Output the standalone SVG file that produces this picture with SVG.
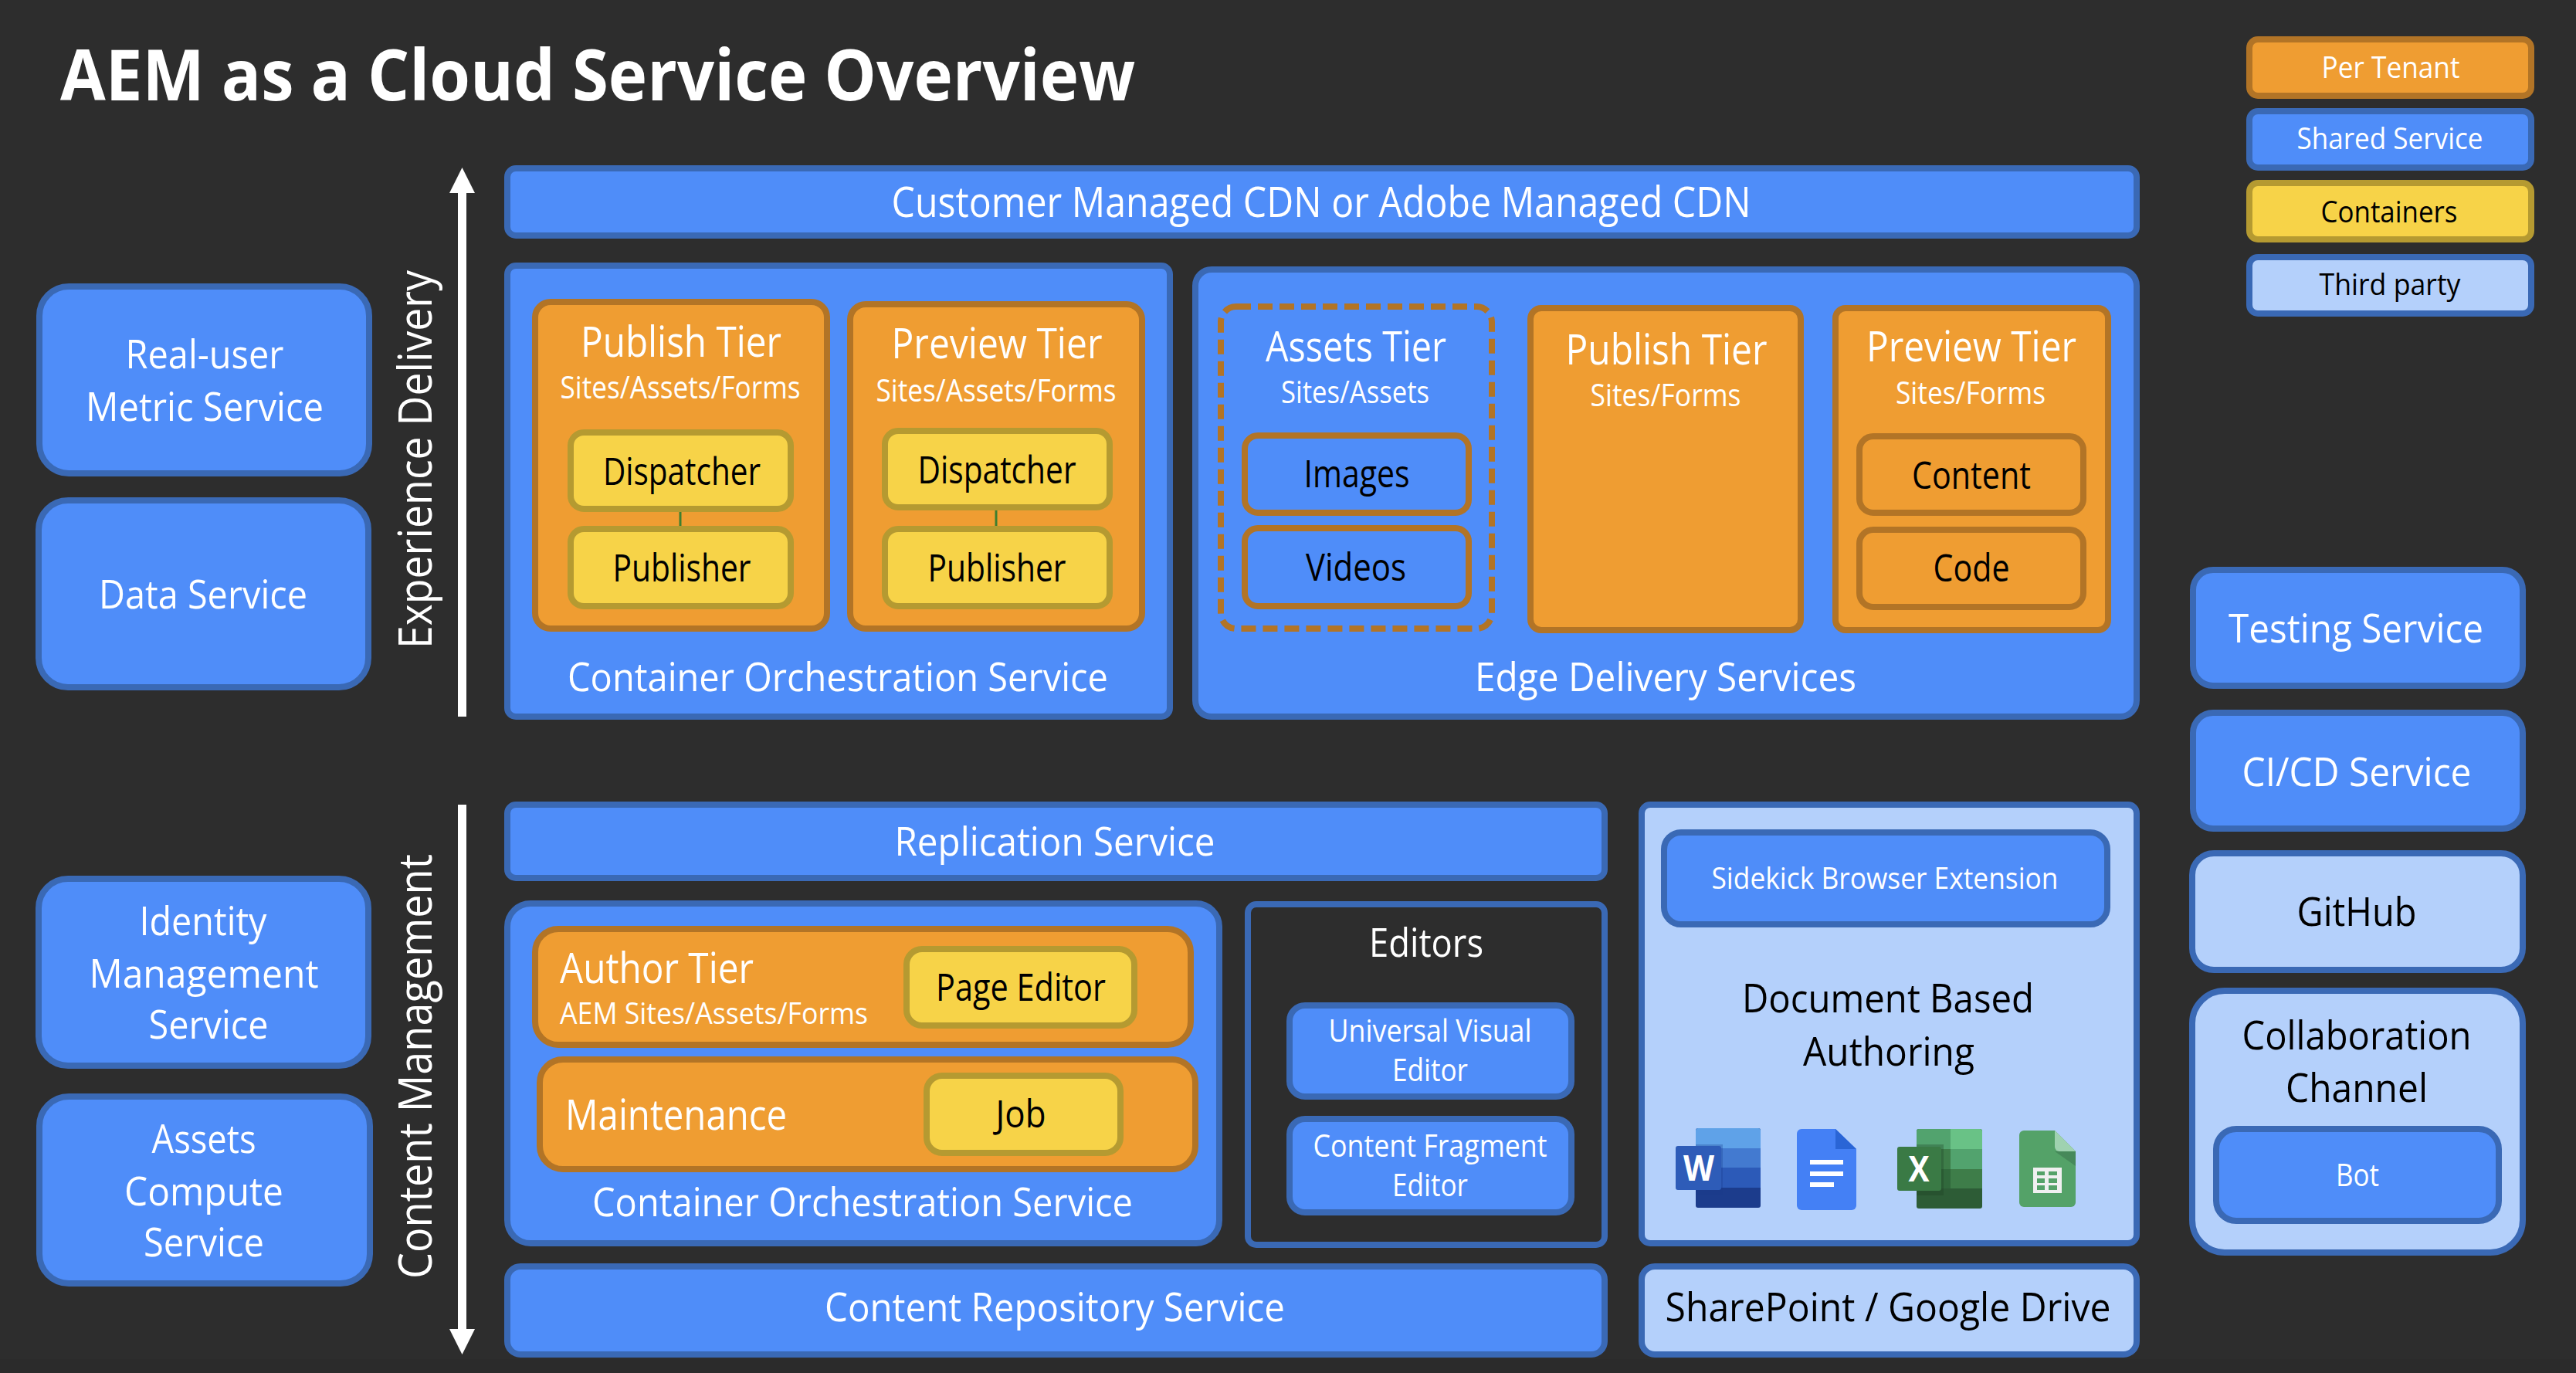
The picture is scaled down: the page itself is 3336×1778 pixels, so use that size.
<svg xmlns="http://www.w3.org/2000/svg" width="3336" height="1778" viewBox="0 0 3336 1778">
<style>
text{font-family:"Open Sans","Noto Sans","Liberation Sans",sans-serif;text-anchor:middle}
rect.n{stroke-width:8}
.b{fill:#4f8df9;stroke:#3a69b5}
.o{fill:#ef9d32;stroke:#b27426}
.y{fill:#f7d348;stroke:#b59a31}
.l{fill:#b4d0fb;stroke:#3a69b5}
.e{fill:#2d2d2d;stroke:#3a69b5}
.t{fill:#4f8df9;stroke:#b27426}
.d{fill:none;stroke:#b27426;stroke-dasharray:19 9}
.w{fill:#fff}
.k{fill:#000}
.s38{font-size:38px}
.s40{font-size:40px}
.s48{font-size:49px}
.s51{font-size:52px}
.s53{font-size:54px}
.s61{font-size:61px}
.ttl{font-size:91px;font-weight:700;text-anchor:start}
.start{text-anchor:start}
.arrow{stroke:#fff;stroke-width:11;fill:none}
.link{stroke:#3f7f2f;stroke-width:3;fill:none}
</style>
<defs>
<marker id="head" viewBox="0 0 33 33" refX="0" refY="16.5" markerWidth="33" markerHeight="33" markerUnits="userSpaceOnUse" orient="auto"><path d="M0 0L33 16.5L0 33Z" fill="#fff"/></marker>
</defs>
<rect width="3336" height="1778" fill="#2d2d2d"/>
<rect y="1760" width="3336" height="18" fill="#2b2b2b"/>
<text id="title" class="w ttl" x="78" y="130" textLength="1392" lengthAdjust="spacingAndGlyphs">AEM as a Cloud Service Overview</text>

<g id="legend">
<g id="legend-per-tenant"><rect class="n o" x="2913" y="51" width="365" height="73" rx="11"/><text class="w s38" x="3096" y="101" textLength="179" lengthAdjust="spacingAndGlyphs">Per Tenant</text></g>
<g id="legend-shared"><rect class="n b" x="2913" y="144" width="365" height="73" rx="11"/><text class="w s38" x="3095" y="193" textLength="241" lengthAdjust="spacingAndGlyphs">Shared Service</text></g>
<g id="legend-containers"><rect class="n y" x="2913" y="237" width="365" height="73" rx="11"/><text class="k s38" x="3094" y="288" textLength="177" lengthAdjust="spacingAndGlyphs">Containers</text></g>
<g id="legend-third"><rect class="n l" x="2913" y="333" width="365" height="73" rx="11"/><text class="k s38" x="3095" y="382" textLength="183" lengthAdjust="spacingAndGlyphs">Third party</text></g>
</g>

<g id="real-user"><rect class="n b" x="51" y="371" width="427" height="242" rx="38"/><text class="w s51" x="265" y="477" textLength="205" lengthAdjust="spacingAndGlyphs">Real-user</text><text class="w s51" x="265" y="545" textLength="308" lengthAdjust="spacingAndGlyphs">Metric Service</text></g>
<g id="data-service"><rect class="n b" x="50" y="648" width="427" height="242" rx="38"/><text class="w s51" x="263" y="788" textLength="270" lengthAdjust="spacingAndGlyphs">Data Service</text></g>
<g id="identity"><rect class="n b" x="50" y="1138" width="427" height="242" rx="38"/><text class="w s51" x="263" y="1211" textLength="165" lengthAdjust="spacingAndGlyphs">Identity</text><text class="w s51" x="264" y="1279" textLength="297" lengthAdjust="spacingAndGlyphs">Management</text><text class="w s51" x="270" y="1345" textLength="155" lengthAdjust="spacingAndGlyphs">Service</text></g>
<g id="assets-compute"><rect class="n b" x="51" y="1420" width="428" height="242" rx="38"/><text class="w s51" x="264" y="1493" textLength="135" lengthAdjust="spacingAndGlyphs">Assets</text><text class="w s51" x="264" y="1561" textLength="206" lengthAdjust="spacingAndGlyphs">Compute</text><text class="w s51" x="264" y="1627" textLength="156" lengthAdjust="spacingAndGlyphs">Service</text></g>

<text id="label-experience" class="w s61" transform="translate(559 840) rotate(-90)" x="245" y="0" textLength="490" lengthAdjust="spacingAndGlyphs">Experience Delivery</text>
<text id="label-content" class="w s61" transform="translate(559 1656) rotate(-90)" x="275" y="0" textLength="550" lengthAdjust="spacingAndGlyphs">Content Management</text>

<g id="cdn"><rect class="n b" x="657" y="218" width="2110" height="87" rx="11"/><text class="w s53" x="1711" y="281" textLength="1113" lengthAdjust="spacingAndGlyphs">Customer Managed CDN or Adobe Managed CDN</text></g>

<g id="orchestration-publish"><rect class="n b" x="657" y="344" width="858" height="584" rx="11"/><text class="w s51" x="1085" y="895" textLength="700" lengthAdjust="spacingAndGlyphs">Container Orchestration Service</text></g>
<g id="publish-tier"><rect class="n o" x="693" y="391" width="378" height="423" rx="20"/><text class="w s53" x="882" y="462" textLength="260" lengthAdjust="spacingAndGlyphs">Publish Tier</text><text class="w s40" x="881" y="516" textLength="311" lengthAdjust="spacingAndGlyphs">Sites/Assets/Forms</text></g>
<g id="dispatcher-1"><rect class="n y" x="739" y="560" width="285" height="99" rx="17"/><text class="k s48" x="883" y="628" textLength="204" lengthAdjust="spacingAndGlyphs">Dispatcher</text></g>
<g id="publisher-1"><rect class="n y" x="739" y="685" width="285" height="100" rx="17"/><text class="k s48" x="883" y="753" textLength="179" lengthAdjust="spacingAndGlyphs">Publisher</text></g>
<g id="preview-tier"><rect class="n o" x="1101" y="394" width="378" height="420" rx="20"/><text class="w s53" x="1291" y="464" textLength="273" lengthAdjust="spacingAndGlyphs">Preview Tier</text><text class="w s40" x="1290" y="520" textLength="311" lengthAdjust="spacingAndGlyphs">Sites/Assets/Forms</text></g>
<g id="dispatcher-2"><rect class="n y" x="1146" y="558" width="291" height="99" rx="17"/><text class="k s48" x="1291" y="626" textLength="205" lengthAdjust="spacingAndGlyphs">Dispatcher</text></g>
<g id="publisher-2"><rect class="n y" x="1146" y="685" width="291" height="100" rx="17"/><text class="k s48" x="1291" y="753" textLength="179" lengthAdjust="spacingAndGlyphs">Publisher</text></g>

<g id="edge-delivery"><rect class="n b" x="1548" y="349" width="1219" height="579" rx="21"/><text class="w s51" x="2157" y="895" textLength="494" lengthAdjust="spacingAndGlyphs">Edge Delivery Services</text></g>
<g id="assets-tier"><rect class="n d" x="1581" y="397" width="351" height="417" rx="20"/><text class="w s53" x="1756" y="468" textLength="234" lengthAdjust="spacingAndGlyphs">Assets Tier</text><text class="w s40" x="1755" y="522" textLength="192" lengthAdjust="spacingAndGlyphs">Sites/Assets</text></g>
<g id="images"><rect class="n t" x="1612" y="564" width="290" height="100" rx="17"/><text class="k s48" x="1757" y="631" textLength="137" lengthAdjust="spacingAndGlyphs">Images</text></g>
<g id="videos"><rect class="n t" x="1612" y="684" width="290" height="101" rx="17"/><text class="k s48" x="1756" y="752" textLength="130" lengthAdjust="spacingAndGlyphs">Videos</text></g>
<g id="publish-edge"><rect class="n o" x="1982" y="399" width="350" height="417" rx="14"/><text class="w s53" x="2158" y="472" textLength="261" lengthAdjust="spacingAndGlyphs">Publish Tier</text><text class="w s40" x="2157" y="526" textLength="195" lengthAdjust="spacingAndGlyphs">Sites/Forms</text></g>
<g id="preview-edge"><rect class="n o" x="2377" y="399" width="353" height="417" rx="13"/><text class="w s53" x="2553" y="468" textLength="272" lengthAdjust="spacingAndGlyphs">Preview Tier</text><text class="w s40" x="2552" y="523" textLength="194" lengthAdjust="spacingAndGlyphs">Sites/Forms</text></g>
<g id="content"><rect class="n o" x="2408" y="565" width="290" height="99" rx="18"/><text class="k s48" x="2553" y="633" textLength="154" lengthAdjust="spacingAndGlyphs">Content</text></g>
<g id="code"><rect class="n o" x="2408" y="686" width="290" height="100" rx="18"/><text class="k s48" x="2553" y="753" textLength="99" lengthAdjust="spacingAndGlyphs">Code</text></g>

<g id="replication"><rect class="n b" x="657" y="1042" width="1421" height="95" rx="11"/><text class="w s51" x="1366" y="1108" textLength="415" lengthAdjust="spacingAndGlyphs">Replication Service</text></g>
<g id="orchestration-author"><rect class="n b" x="657" y="1170" width="922" height="440" rx="30"/><text class="w s51" x="1117" y="1575" textLength="700" lengthAdjust="spacingAndGlyphs">Container Orchestration Service</text></g>
<g id="author-tier"><rect class="n o" x="693" y="1203" width="849" height="150" rx="30"/><text class="w s53 start" x="725" y="1273" textLength="251" lengthAdjust="spacingAndGlyphs">Author Tier</text><text class="w s38 start" x="725" y="1326" textLength="399" lengthAdjust="spacingAndGlyphs">AEM Sites/Assets/Forms</text></g>
<g id="page-editor"><rect class="n y" x="1174" y="1229" width="295" height="99" rx="20"/><text class="k s48" x="1322" y="1296" textLength="220" lengthAdjust="spacingAndGlyphs">Page Editor</text></g>
<g id="maintenance"><rect class="n o" x="699" y="1372" width="849" height="142" rx="30"/><text class="w s53 start" x="732" y="1463" textLength="287" lengthAdjust="spacingAndGlyphs">Maintenance</text></g>
<g id="job"><rect class="n y" x="1200" y="1393" width="251" height="100" rx="20"/><text class="k s48" x="1322" y="1460" textLength="65" lengthAdjust="spacingAndGlyphs">Job</text></g>
<g id="editors"><rect class="n e" x="1616" y="1171" width="462" height="441" rx="11"/><text class="w s51" x="1847" y="1239" textLength="148" lengthAdjust="spacingAndGlyphs">Editors</text></g>
<g id="universal-visual-editor"><rect class="n b" x="1670" y="1302" width="365" height="118" rx="20"/><text class="w s40" x="1852" y="1349" textLength="263" lengthAdjust="spacingAndGlyphs">Universal Visual</text><text class="w s40" x="1852" y="1400" textLength="98" lengthAdjust="spacingAndGlyphs">Editor</text></g>
<g id="content-fragment-editor"><rect class="n b" x="1670" y="1449" width="365" height="121" rx="20"/><text class="w s40" x="1852" y="1498" textLength="303" lengthAdjust="spacingAndGlyphs">Content Fragment</text><text class="w s40" x="1852" y="1549" textLength="98" lengthAdjust="spacingAndGlyphs">Editor</text></g>
<g id="content-repository"><rect class="n b" x="657" y="1640" width="1421" height="114" rx="17"/><text class="w s51" x="1366" y="1711" textLength="596" lengthAdjust="spacingAndGlyphs">Content Repository Service</text></g>

<g id="document-authoring"><rect class="n l" x="2126" y="1042" width="641" height="568" rx="11"/><text class="k s51" x="2445" y="1311" textLength="378" lengthAdjust="spacingAndGlyphs">Document Based</text><text class="k s51" x="2446" y="1380" textLength="222" lengthAdjust="spacingAndGlyphs">Authoring</text></g>
<g id="sidekick"><rect class="n b" x="2155" y="1078" width="574" height="119" rx="22"/><text class="w s38" x="2441" y="1151" textLength="449" lengthAdjust="spacingAndGlyphs">Sidekick Browser Extension</text></g>
<g id="icon-word">
<rect x="2196" y="1461" width="84" height="103" rx="3" fill="#1c3c8c"/>
<path d="M2196 1464a3 3 0 0 1 3-3h78a3 3 0 0 1 3 3v23h-84z" fill="#5fa2e8"/>
<rect x="2196" y="1487" width="84" height="25" fill="#437ad0"/>
<rect x="2196" y="1512" width="84" height="26" fill="#2c5ab8"/>
<rect x="2196" y="1482" width="35" height="66" fill="#1c3c8c" opacity=".3"/>
<rect x="2170" y="1484" width="59" height="57" rx="3" fill="#2e5cb8"/>
<text x="2200" y="1529" font-size="46" font-weight="700" class="w" textLength="40" lengthAdjust="spacingAndGlyphs">W</text>
</g>
<g id="icon-docs">
<path d="M2333 1462h44l27 26v73a6 6 0 0 1-6 6h-65a6 6 0 0 1-6-6v-93a6 6 0 0 1 6-6z" fill="#4480f5"/>
<path d="M2377 1462l27 26h-27z" fill="#2a65d6"/>
<rect x="2344" y="1502" width="43" height="6" fill="#fff"/>
<rect x="2344" y="1517" width="43" height="6" fill="#fff"/>
<rect x="2344" y="1531" width="31" height="6" fill="#fff"/>
</g>
<g id="icon-excel">
<rect x="2482" y="1462" width="85" height="103" rx="3" fill="#2d5c36"/>
<path d="M2482 1465a3 3 0 0 1 3-3h41v26h-44z" fill="#52a36e"/>
<path d="M2526 1462h38a3 3 0 0 1 3 3v23h-41z" fill="#69c286"/>
<rect x="2482" y="1488" width="44" height="26" fill="#3e7d49"/>
<rect x="2526" y="1488" width="41" height="26" fill="#52a36e"/>
<rect x="2482" y="1514" width="44" height="25" fill="#31693c"/>
<rect x="2526" y="1514" width="41" height="25" fill="#3e7d49"/>
<rect x="2482" y="1482" width="35" height="66" fill="#1a3a20" opacity=".3"/>
<rect x="2457" y="1485" width="57" height="57" rx="3" fill="#3a7a45"/>
<text x="2485" y="1530" font-size="46" font-weight="700" class="w" textLength="27" lengthAdjust="spacingAndGlyphs">X</text>
</g>
<g id="icon-sheets">
<path d="M2621 1464h40l27 27v66a6 6 0 0 1-6 6h-61a6 6 0 0 1-6-6v-87a6 6 0 0 1 6-6z" fill="#54a268"/>
<path d="M2661 1491l27 19v-19z" fill="#46895a"/>
<path d="M2661 1464l27 27h-21a6 6 0 0 1-6-6z" fill="#9fd2b0"/>
<rect x="2633" y="1512" width="37" height="33" fill="#f0f0f0"/>
<path d="M2638 1517h10v5h-10zM2653 1517h11v5h-11zM2638 1526h10v6h-10zM2653 1526h11v6h-11zM2638 1535h10v6h-10zM2653 1535h11v6h-11z" fill="#54a268"/>
</g>
<g id="sharepoint"><rect class="n l" x="2126" y="1640" width="641" height="114" rx="17"/><text class="k s51" x="2445" y="1711" textLength="577" lengthAdjust="spacingAndGlyphs">SharePoint / Google Drive</text></g>

<g id="testing"><rect class="n b" x="2840" y="738" width="427" height="150" rx="26"/><text class="w s51" x="3051" y="832" textLength="330" lengthAdjust="spacingAndGlyphs">Testing Service</text></g>
<g id="cicd"><rect class="n b" x="2840" y="923" width="427" height="150" rx="26"/><text class="w s51" x="3052" y="1018" textLength="297" lengthAdjust="spacingAndGlyphs">CI/CD Service</text></g>
<g id="github"><rect class="n l" x="2839" y="1105" width="428" height="151" rx="28"/><text class="k s51" x="3052" y="1199" textLength="155" lengthAdjust="spacingAndGlyphs">GitHub</text></g>
<g id="collaboration"><rect class="n l" x="2839" y="1283" width="428" height="339" rx="42"/><text class="k s51" x="3052" y="1359" textLength="297" lengthAdjust="spacingAndGlyphs">Collaboration</text><text class="k s51" x="3052" y="1427" textLength="184" lengthAdjust="spacingAndGlyphs">Channel</text></g>
<g id="bot"><rect class="n b" x="2870" y="1462" width="366" height="119" rx="26"/><text class="w s40" x="3053" y="1536" textLength="56" lengthAdjust="spacingAndGlyphs">Bot</text></g>

<g id="connectors">
<line class="arrow" x1="598.500" y1="928" x2="598.500" y2="250" marker-end="url(#head)"/>
<line class="arrow" x1="598.500" y1="1042" x2="598.500" y2="1721" marker-end="url(#head)"/>
<line class="link" x1="881" y1="663" x2="881" y2="681"/>
<line class="link" x1="1290" y1="661" x2="1290" y2="681"/>
</g>
</svg>
